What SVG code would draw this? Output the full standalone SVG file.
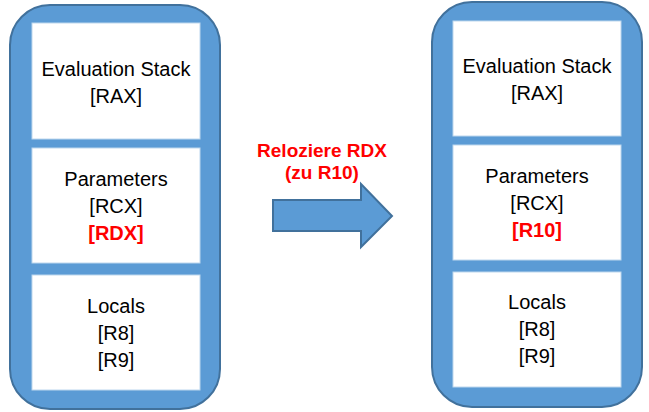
<svg xmlns="http://www.w3.org/2000/svg" width="649" height="412" viewBox="0 0 649 412">
<style>
.outer{fill:#5B9BD5;stroke:#41719C;stroke-width:2}
.inner{fill:#FFFFFF;stroke:#BDD7EE;stroke-width:1}
.t{font-family:"Liberation Sans",Arial,sans-serif;font-size:20px;fill:#000;text-anchor:middle}
.r{font-weight:bold;fill:#FF0000}
.lbl{font-family:"Liberation Sans",Arial,sans-serif;font-size:19px;font-weight:bold;fill:#FF0000;text-anchor:middle}
</style>
<rect width="649" height="412" fill="#FFFFFF"/>
<g id="left-stack">
<rect class="outer" x="10" y="5" width="210" height="404" rx="40" ry="40"/>
<g id="left-eval">
<rect class="inner" x="32" y="23" width="168" height="116"/>
<text class="t" x="116" y="76">Evaluation Stack</text>
<text class="t" x="116" y="103">[RAX]</text>
</g>
<g id="left-params">
<rect class="inner" x="32" y="148" width="168" height="115"/>
<text class="t" x="116" y="186">Parameters</text>
<text class="t" x="116" y="213">[RCX]</text>
<text class="t r" x="116" y="240">[RDX]</text>
</g>
<g id="left-locals">
<rect class="inner" x="32" y="275" width="168" height="115"/>
<text class="t" x="116" y="313">Locals</text>
<text class="t" x="116" y="340">[R8]</text>
<text class="t" x="116" y="367">[R9]</text>
</g>
</g>
<g id="connectors">
<polygon class="outer" points="273,200 361,200 361,184 392,216 361,247 361,231 273,231"/>
<text class="lbl" x="322" y="157">Reloziere RDX</text>
<text class="lbl" x="322" y="179">(zu R10)</text>
</g>
<g id="right-stack">
<rect class="outer" x="432" y="2" width="210" height="405" rx="40" ry="40"/>
<g id="right-eval">
<rect class="inner" x="453" y="21" width="168" height="115"/>
<text class="t" x="537" y="73">Evaluation Stack</text>
<text class="t" x="537" y="100">[RAX]</text>
</g>
<g id="right-params">
<rect class="inner" x="453" y="145" width="168" height="115"/>
<text class="t" x="537" y="183">Parameters</text>
<text class="t" x="537" y="210">[RCX]</text>
<text class="t r" x="537" y="237">[R10]</text>
</g>
<g id="right-locals">
<rect class="inner" x="453" y="272" width="168" height="115"/>
<text class="t" x="537" y="309">Locals</text>
<text class="t" x="537" y="336">[R8]</text>
<text class="t" x="537" y="363">[R9]</text>
</g>
</g>
</svg>
